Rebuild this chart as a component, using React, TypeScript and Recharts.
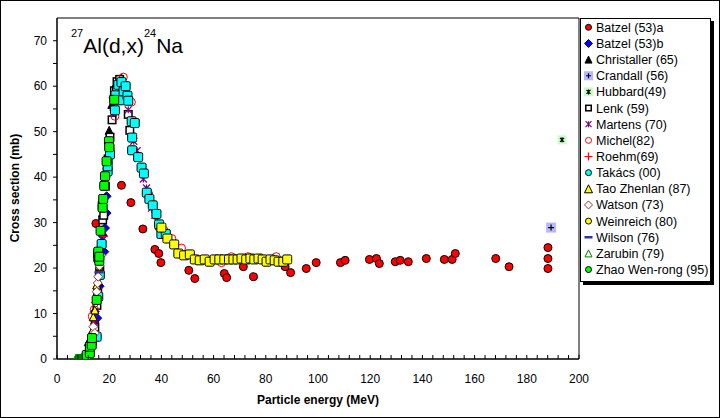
import React from 'react';
import { ScatterChart, Scatter, XAxis, YAxis, ReferenceArea } from 'recharts';

type P = [number, number];

const batzelA: P[] = [[13.0,3.0],[14.5,8.4],[14.9,29.8],[24.7,38.2],[28.3,34.4],[32.9,28.6],[37.5,24.1],[39,23.2],[39.8,21.2],[50.5,19.5],[52.8,17.7],[64.1,18.8],[65,17.9],[71.4,20.3],[75.3,18.1],[87.4,20.3],[89.5,19.0],[95.5,19.9],[99.3,21.2],[108.6,21.2],[110.4,21.7],[119.7,21.9],[122.4,22.1],[123.5,21.0],[129.6,21.4],[131.5,21.7],[134.6,21.4],[141.5,22.1],[148.4,21.9],[151.4,21.9],[152.6,23.2],[168.1,22.1],[173.2,20.3],[188.1,24.5],[188.1,22.1],[188.1,19.9]];
const batzelB: P[] = [[13.9,5.7],[14.5,10.4],[15.4,9.0],[16.3,16],[17.5,27.1],[18.1,23.6],[18.4,28.8],[19,32.1],[19.0,35.8]];
const christaller: P[] = [[11.5,1.5],[12.5,3.5],[13.5,6],[16.0,17],[17.5,28],[19.5,45],[20.0,50.3],[21,56],[23,60],[24.7,61.8]];
const crandall: P[] = [[189.3,28.9]];
const hubbard: P[] = [[193.5,48.2]];
const lenk: P[] = [[13.5,4],[14.5,7],[15.3,11.8],[15.6,14.9],[16.4,19.7],[17.3,33.7],[17.5,30.6],[17.9,31.6],[18.5,38],[19.6,44],[20.3,46.2],[20.3,48.8],[21.1,52.6],[22,59],[22.8,59.2],[23,61],[24,61.5],[25,60],[26,58],[27.3,53.8],[27.9,50.3]];
const martens: P[] = [[14.5,8],[16,15],[19.2,40.7],[21.5,54.1],[24.1,59.2],[25.5,58.5],[27.3,54.8],[28.9,52.1],[29.4,47.9],[30.7,45.8],[32.8,42.1],[33.1,39.6],[34.3,37.6],[35.3,35.8],[36.2,33.2],[37.5,31.6],[38.9,29.1],[46.7,23.1]];
const michel: P[] = [[13.5,9.4],[14.3,10.9],[21.5,57.5],[22.2,53.4],[25.4,62.0],[28.5,56.5],[29.4,52],[35,36.5],[38,31.5],[41,28.3],[44,26.5],[47.7,24.4],[63,21.2],[66.8,22.5],[73.2,22.5],[84,22.5]];
const roehm: P[] = [[14.0,8.5],[15.2,12.5],[16.5,19],[18,27],[24,60]];
const takacs: P[] = [[15.2,4.9],[15.8,13.7],[16.4,18.5],[15.8,23.1],[17.1,25.3],[19.4,41.3],[19.4,42.4],[20.3,45],[22.2,54.7],[22.4,58],[23.5,60.3],[24.7,60.9],[24.2,56.9],[25.5,58.9],[26.3,60],[27,57.9],[27.3,56.8],[28.6,52.3],[29.8,51.9],[28.8,48.7],[28.8,45.9],[31.1,44.4],[32.4,42.1],[33.3,40.8],[34.4,36.6],[35.4,35.2],[36.7,33.8],[38.1,31.9],[39.1,29.6],[40.0,27.5],[41.7,27.5]];
const taoZhenlan: P[] = [[12,3.8],[13.3,6.0],[13.9,9.3],[14.5,10.8],[15.2,16.3],[16.2,20.5]];
const watson: P[] = [[13.9,7.1],[14.5,5.7],[14.9,12.4],[15.2,14.8],[15.6,16.7],[15.8,18.1],[16.3,20.5],[17,22.8]];
const weinreich: P[] = [[40,28.9],[42.3,26.5],[44.9,25.2],[46.5,23.2],[48.7,22.8],[50.9,23.0],[52.8,21.9],[54.7,21.7],[56.6,21.9],[58.5,21.4],[60.4,21.9],[62.2,21.9],[64.1,21.9],[65.9,21.9],[67.6,21.9],[69.2,21.9],[70.7,22.1],[72.5,21.9],[74.1,22.1],[75.6,21.9],[77.2,22.1],[78.8,21.9],[80.3,21.4],[81.8,21.9],[83.4,21.7],[84.9,21.4],[86.7,21.4],[88.2,21.9]];
const wilson: P[] = [[16.1,19.1]];
const zarubin: P[] = [[7.3,0],[7.8,0],[8.3,0],[8.8,0],[9.3,0.1],[9.8,0.1],[10.3,0.1],[10.8,0.2],[11.3,0.3],[11.8,0.5]];
const zhao: P[] = [[11.4,0.9],[12.6,1.3],[12.6,2.7],[13.3,3.1],[13.4,4.6],[15.2,13.0],[15.8,22.2],[15.8,23.6],[16.2,21.6],[16.2,22.5],[16.7,28.2],[17.5,33.3],[17.7,35.2],[18.1,38.1],[18.4,40.2],[19.0,43.5],[19.9,47.9],[20.0,46.6],[21.9,57.0]];

const xTicks: number[] = Array.from({ length: 51 }, (_, i) => i * 4);
const xLabels: number[] = [0, 20, 40, 60, 80, 100, 120, 140, 160, 180, 200];
const yTicks: number[] = [0, 5, 10, 15, 20, 25, 30, 35, 40, 45, 50, 55, 60, 65, 70];

type Kind = 'circle' | 'square' | 'hsquare' | 'diamond' | 'hdiamond' | 'triangle' | 'htriangle' | 'plus' | 'star' | 'dash' | 'boxplus' | 'boxstar' | 'hcircle';

interface Series { name: string; data: P[]; kind: Kind; lkind?: Kind; size: number; lsize: number; fill: string; stroke: string; }

const series: Series[] = [
  { name: 'Batzel (53)a', data: batzelA, kind: 'circle', size: 9, lsize: 7, fill: '#FF0000', stroke: '#000' },
  { name: 'Batzel (53)b', data: batzelB, kind: 'diamond', size: 9, lsize: 8, fill: '#0000FF', stroke: '#000080' },
  { name: 'Christaller (65)', data: christaller, kind: 'triangle', size: 8, lsize: 7, fill: '#000', stroke: '#000' },
  { name: 'Crandall (56)', data: crandall, kind: 'boxplus', size: 10, lsize: 9, fill: '#B8B8FF', stroke: '#000' },
  { name: 'Hubbard(49)', data: hubbard, kind: 'boxstar', size: 9, lsize: 9, fill: '#C8FFC8', stroke: '#000' },
  { name: 'Lenk (59)', data: lenk, kind: 'hsquare', size: 9, lsize: 7, fill: '#FFF', stroke: '#000' },
  { name: 'Martens (70)', data: martens, kind: 'star', size: 7, lsize: 6, fill: 'none', stroke: '#800080' },
  { name: 'Michel(82)', data: michel, kind: 'hcircle', size: 9, lsize: 7, fill: 'none', stroke: '#FF0000' },
  { name: 'Roehm(69)', data: roehm, kind: 'plus', size: 8, lsize: 8, fill: 'none', stroke: '#FF0000' },
  { name: 'Takács (00)', data: takacs, kind: 'square', lkind: 'circle', size: 9, lsize: 7, fill: '#00FFFF', stroke: '#000' },
  { name: 'Tao Zhenlan (87)', data: taoZhenlan, kind: 'triangle', size: 8, lsize: 8, fill: '#FFFF00', stroke: '#000' },
  { name: 'Watson (73)', data: watson, kind: 'hdiamond', size: 9, lsize: 8, fill: '#FFF', stroke: '#993333' },
  { name: 'Weinreich (80)', data: weinreich, kind: 'square', lkind: 'circle', size: 9, lsize: 7, fill: '#FFFF00', stroke: '#000' },
  { name: 'Wilson (76)', data: wilson, kind: 'dash', size: 9, lsize: 8, fill: 'none', stroke: '#333399' },
  { name: 'Zarubin (79)', data: zarubin, kind: 'triangle', lkind: 'htriangle', size: 10, lsize: 7, fill: '#008000', stroke: '#008000' },
  { name: 'Zhao Wen-rong (95)', data: zhao, kind: 'square', lkind: 'circle', size: 9, lsize: 7, fill: '#00FF00', stroke: '#000' },
];

const FONT = '"Liberation Sans", Arial, sans-serif';

function Marker({ kind, x, y, s, fill, stroke }: { kind: Kind; x: number; y: number; s: number; fill: string; stroke: string }) {
  const h = s / 2;
  switch (kind) {
    case 'circle':
      return <circle cx={x} cy={y} r={h - 0.5} fill={fill} stroke={stroke} strokeWidth={1} />;
    case 'hcircle':
      return <circle cx={x} cy={y} r={h - 0.5} fill="none" stroke={stroke} strokeWidth={1} />;
    case 'square':
      return <rect x={x - h} y={y - h} width={s} height={s} rx={1.5} fill={fill} stroke={stroke} strokeWidth={1} />;
    case 'hsquare':
      return <rect x={x - h + 0.75} y={y - h + 0.75} width={s - 1.5} height={s - 1.5} fill={fill} stroke={stroke} strokeWidth={1.5} />;
    case 'diamond':
      return <polygon points={`${x},${y - h} ${x + h},${y} ${x},${y + h} ${x - h},${y}`} fill={fill} stroke={stroke} strokeWidth={1} />;
    case 'hdiamond':
      return <polygon points={`${x},${y - h} ${x + h},${y} ${x},${y + h} ${x - h},${y}`} fill="#FFF" stroke={stroke} strokeWidth={1} />;
    case 'triangle':
      return <polygon points={`${x},${y - h} ${x + h},${y + h} ${x - h},${y + h}`} fill={fill} stroke={stroke} strokeWidth={1} />;
    case 'htriangle':
      return <polygon points={`${x},${y - h} ${x + h},${y + h} ${x - h},${y + h}`} fill="none" stroke={stroke} strokeWidth={1} />;
    case 'plus':
      return <path d={`M${x - h},${y}H${x + h}M${x},${y - h}V${y + h}`} stroke={stroke} strokeWidth={1.2} fill="none" />;
    case 'star':
      return <path d={`M${x - h},${y - h}L${x + h},${y + h}M${x - h},${y + h}L${x + h},${y - h}M${x},${y - h}V${y + h}`} stroke={stroke} strokeWidth={1.2} fill="none" />;
    case 'dash':
      return <path d={`M${x - h},${y}H${x + h}`} stroke={stroke} strokeWidth={2.5} fill="none" />;
    case 'boxplus':
      return (
        <g>
          <rect x={x - h} y={y - h} width={s} height={s} fill={fill} />
          <path d={`M${x - h + 2},${y}H${x + h - 2}M${x},${y - h + 2}V${y + h - 2}`} stroke={stroke} strokeWidth={1.2} />
        </g>
      );
    case 'boxstar':
      return (
        <g>
          <rect x={x - h} y={y - h} width={s} height={s} fill={fill} />
          <path d={`M${x - h + 2.5},${y - h + 2.5}L${x + h - 2.5},${y + h - 2.5}M${x - h + 2.5},${y + h - 2.5}L${x + h - 2.5},${y - h + 2.5}M${x},${y - h + 2}V${y + h - 2}`} stroke={stroke} strokeWidth={1.2} />
        </g>
      );
  }
  return null;
}

const XTick = (props: any) => {
  const { x, y, payload } = props;
  const v = payload.value as number;
  const isMajor = xLabels.includes(v);
  return (
    <g>
      <line x1={x} x2={x} y1={y} y2={y - 4} stroke="#000" strokeWidth={1} />
      {isMajor && (
        <text x={x} y={y + 24} textAnchor="middle" fontSize={12} fontFamily={FONT} fill="#000">{v}</text>
      )}
    </g>
  );
};

export default function App() {
  const legendTop = 18;
  const legendLeft = 580;
  return (
    <div style={{ position: 'absolute', left: 0, top: 0, width: 720, height: 418, background: '#fff' }}>
      <ScatterChart width={720} height={418} margin={{ top: 18, right: 141, bottom: 0, left: 7 }}>
        <XAxis
          type="number"
          dataKey="x"
          domain={[0, 200]}
          ticks={xTicks}
          interval={0}
          tickSize={0}
          tickMargin={0}
          tickLine={false}
          tick={<XTick />}
          height={59}
          axisLine={{ stroke: '#000' }}
          allowDataOverflow
        />
        <YAxis
          type="number"
          dataKey="y"
          domain={[0, 75]}
          ticks={yTicks}
          interval={0}
          width={50}
          tickSize={4}
          tickMargin={6}
          tickLine={{ stroke: '#000' }}
          axisLine={{ stroke: '#000' }}
          tick={{ fill: '#000', fontSize: 12, fontFamily: FONT }}
          tickFormatter={(v: number) => (v % 10 === 0 ? String(v) : '')}
          allowDataOverflow
        />
        <ReferenceArea x1={0} x2={200} y1={0} y2={75} fill="none" stroke="#000" strokeWidth={1} />
        {series.map((s) => (
          <Scatter
            key={s.name}
            name={s.name}
            data={s.data.map(([x, y]) => ({ x, y }))}
            isAnimationActive={false}
            shape={(p: any) => <Marker kind={s.kind} x={p.cx} y={p.cy} s={s.size} fill={s.fill} stroke={s.stroke} />}
          />
        ))}
      </ScatterChart>
      <svg width={720} height={418} style={{ position: 'absolute', left: 0, top: 0, pointerEvents: 'none' }}>
        <rect x={0.5} y={0.5} width={719} height={417} fill="none" stroke="#000" />
        <text x={71} y={53} fontFamily={FONT} fontSize={21} fill="#000">
          <tspan fontSize={11} dy={-16}>27</tspan>
          <tspan dy={16}>Al(d,x)</tspan>
          <tspan fontSize={11} dy={-16}>24</tspan>
          <tspan dy={16}>Na</tspan>
        </text>
        <text x={318} y={404} textAnchor="middle" fontFamily={FONT} fontSize={12} fontWeight="bold" fill="#000">Particle energy (MeV)</text>
        <text x={19} y={188} transform="rotate(-90 19 188)" textAnchor="middle" fontFamily={FONT} fontSize={12} fontWeight="bold" fill="#000">Cross section (mb)</text>
        <rect x={legendLeft + 3} y={legendTop + 3} width={131} height={264} fill="#000" />
        <rect x={legendLeft + 0.5} y={legendTop + 0.5} width={130} height={263} fill="#fff" stroke="#000" />
        {series.map((s, i) => {
          const cy = 27.3 + i * 16.15;
          return (
            <g key={s.name}>
              <Marker kind={s.lkind ?? s.kind} x={588.5} y={cy} s={s.lsize} fill={s.fill} stroke={s.stroke} />
              <text x={596} y={cy + 4.5} fontFamily={FONT} fontSize={12.5} fill="#000">{s.name}</text>
            </g>
          );
        })}
      </svg>
    </div>
  );
}
